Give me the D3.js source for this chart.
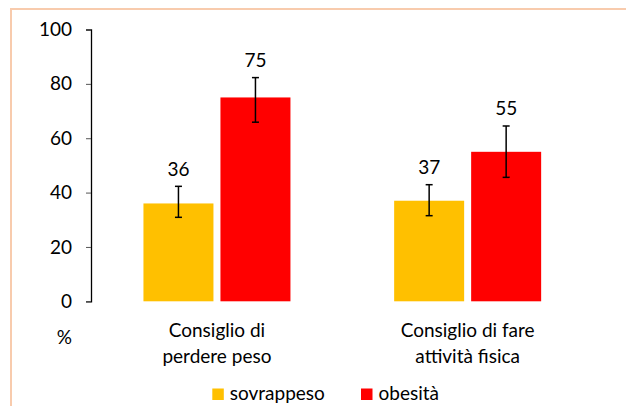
<!DOCTYPE html>
<html>
<head>
<meta charset="utf-8">
<script src="https://cdn.jsdelivr.net/npm/d3@7"></script>
<style>
    body { margin: 0; background: #fff; }
    text { font-family: Lato, "Open Sans", sans-serif; fill: #000; }
</style>
</head>
<body>
<div class="chart"></div>
<script>
// data
var categories = ["Consiglio di\nperdere peso", "Consiglio di fare\nattività fisica"];
var series = ["sovrappeso", "obesità"];
var colors = ["#FFC000", "#FF0000"];
var sovrappeso = [36, 37];
var sovrappesoLow = [30.9, 31.5];
var sovrappesoHigh = [42.3, 42.9];
var obesita = [75, 55];
var obesitaLow = [65.9, 45.6];
var obesitaHigh = [82.3, 64.5];
var yTicks = [0, 20, 40, 60, 80, 100];

var svgWidth = 626;
var svgHeight = 406;
var fontSize = "19px";

var svg = d3.select(".chart")
    .append("svg")
    .attr("width", svgWidth)
    .attr("height", svgHeight);

// frame (cut off on the right and bottom)
svg.append("rect")
    .attr("x", 11)
    .attr("y", 9)
    .attr("width", 700)
    .attr("height", 500)
    .attr("fill", "none")
    .attr("stroke", "#F8CBAD")
    .attr("stroke-width", 2);

// scales
var x0 = d3.scaleBand()
    .domain(categories)
    .range([91.6, 593]);

var x1 = d3.scaleBand()
    .domain(series)
    .range([0, 147])
    .paddingInner(7 / 77);

var y = d3.scaleLinear()
    .domain([0, 100])
    .range([301.3, 29.5]);

// y axis
var yAxis = svg.append("g")
    .attr("transform", "translate(91, 0)")
    .call(d3.axisLeft(y).tickValues(yTicks).tickSize(5).tickPadding(14));
yAxis.select(".domain").attr("stroke", "#000").attr("stroke-width", 1.3);
yAxis.selectAll(".tick line").attr("stroke", "#555");
yAxis.selectAll(".tick text")
    .attr("font-size", fontSize)
    .attr("font-family", "Lato, 'Open Sans', sans-serif")
    .attr("fill", "#000");

svg.append("text")
    .attr("x", 72)
    .attr("y", 344)
    .attr("text-anchor", "end")
    .attr("font-size", fontSize)
    .text("%");

// rows for bars
var rows = [];
categories.forEach(function (c, i) {
    rows.push({ cat: c, s: series[0], v: sovrappeso[i], lo: sovrappesoLow[i], hi: sovrappesoHigh[i], color: colors[0] });
    rows.push({ cat: c, s: series[1], v: obesita[i], lo: obesitaLow[i], hi: obesitaHigh[i], color: colors[1] });
});

var groupOffset = (x0.bandwidth() - 147) / 2;
function barX(d) { return x0(d.cat) + groupOffset + x1(d.s); }
function barMid(d) { return barX(d) + x1.bandwidth() / 2; }

svg.selectAll("rect.bar")
    .data(rows)
    .enter()
    .append("rect")
    .attr("class", "bar")
    .attr("x", barX)
    .attr("y", d => y(d.v))
    .attr("width", x1.bandwidth())
    .attr("height", d => y(0) - y(d.v))
    .attr("fill", d => d.color);

// error bars
var err = svg.selectAll("g.err")
    .data(rows)
    .enter()
    .append("g")
    .attr("class", "err")
    .attr("stroke", "#000")
    .attr("stroke-width", 1.5);

err.append("line")
    .attr("x1", barMid).attr("x2", barMid)
    .attr("y1", d => y(d.hi)).attr("y2", d => y(d.lo));
err.append("line")
    .attr("x1", d => barMid(d) - 3.5).attr("x2", d => barMid(d) + 3.5)
    .attr("y1", d => y(d.hi)).attr("y2", d => y(d.hi));
err.append("line")
    .attr("x1", d => barMid(d) - 3.5).attr("x2", d => barMid(d) + 3.5)
    .attr("y1", d => y(d.lo)).attr("y2", d => y(d.lo));

// value labels
svg.selectAll("text.value")
    .data(rows)
    .enter()
    .append("text")
    .attr("class", "value")
    .attr("x", barMid)
    .attr("y", d => y(d.hi) - 10.5)
    .attr("text-anchor", "middle")
    .attr("font-size", fontSize)
    .text(d => d.v);

// category labels
categories.forEach(function (c) {
    var t = svg.append("text")
        .attr("text-anchor", "middle")
        .attr("font-size", fontSize);
    c.split("\n").forEach(function (line, j) {
        t.append("tspan")
            .attr("x", x0(c) + x0.bandwidth() / 2)
            .attr("y", 336.5 + j * 26)
            .text(line);
    });
});

// legend
var legendX = [212.3, 361];
series.forEach(function (s, i) {
    svg.append("rect")
        .attr("x", legendX[i])
        .attr("y", 388.5)
        .attr("width", 11.5)
        .attr("height", 11.5)
        .attr("fill", colors[i]);
    svg.append("text")
        .attr("x", legendX[i] + 17.5)
        .attr("y", 400)
        .attr("font-size", fontSize)
        .text(s);
});
</script>
</body>
</html>
